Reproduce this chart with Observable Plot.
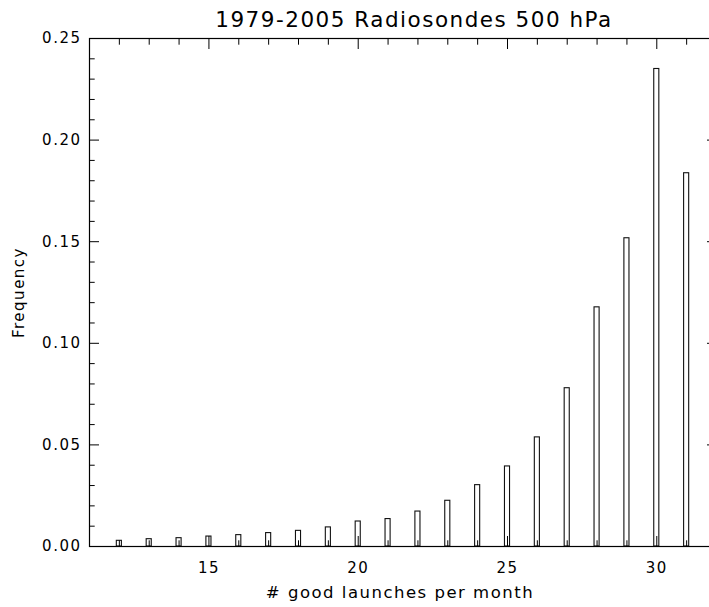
<!DOCTYPE html>
<html><head><meta charset="utf-8">
<script src="https://cdn.jsdelivr.net/npm/d3@7"></script>
<script src="https://cdn.jsdelivr.net/npm/@observablehq/plot@0.6"></script>
<style>
body{margin:0;background:#fff;}
svg text{letter-spacing:1.5px;}
</style></head><body><div id="chart"></div>
<script>
// number of good launches per month (histogram bins)
const launches = [12,13,14,15,16,17,18,19,20,21,22,23,24,25,26,27,28,29,30,31];
// frequency of each bin
const frequency = [0.0028,0.0036,0.0041,0.0049,0.0056,0.0066,0.0077,0.0094,0.0123,0.0135,0.0172,0.0225,0.0302,0.0394,0.0537,0.0779,0.1177,0.1517,0.2350,0.1837];
const xTickLabels = [15,20,25,30];
const yTickLabels = [0,0.05,0.10,0.15,0.20,0.25];
const xMinorTicks = [11,12,13,14,16,17,18,19,21,22,23,24,26,27,28,29,31,32];
const yMinorTicks = [0.01,0.02,0.03,0.04,0.06,0.07,0.08,0.09,0.11,0.12,0.13,0.14,0.16,0.17,0.18,0.19,0.21,0.22,0.23,0.24];
const titleText = "1979-2005 Radiosondes 500 hPa";
const xLabel = "# good launches per month";
const yLabel = "Frequency";

const bars = launches.map((n,i) => ({n, f: frequency[i]}));
const half = 0.085;
const blank = () => "";

const chart = Plot.plot({
  width: 709, height: 607,
  marginTop: 38, marginBottom: 61, marginLeft: 89, marginRight: -7,
  style: {fontFamily: "DejaVu Sans", color: "black", background: "white"},
  x: {domain: [11, 32]},
  y: {domain: [0, 0.25]},
  marks: [
    Plot.rect(bars, {x1: d => d.n - half, x2: d => d.n + half, y1: 0, y2: "f", fill: "white", stroke: "#111", strokeWidth: 1.1}),
    // bottom axis (ticks inward)
    Plot.axisX({anchor: "bottom", ticks: xMinorTicks, tickSize: -5.7, tickFormat: blank, label: null}),
    Plot.axisX({anchor: "bottom", ticks: xTickLabels, tickSize: -10, tickFormat: blank, label: null}),
    Plot.axisX({anchor: "bottom", ticks: xTickLabels, tickSize: 0, tickPadding: 16, fontSize: 15, tickFormat: d => String(d), label: null}),
    // top axis
    Plot.axisX({anchor: "top", ticks: xMinorTicks, tickSize: -5.7, tickFormat: blank, label: null}),
    Plot.axisX({anchor: "top", ticks: xTickLabels, tickSize: -10, tickFormat: blank, label: null}),
    // left axis
    Plot.axisY({anchor: "left", ticks: yMinorTicks, tickSize: -5.7, tickFormat: blank, label: null}),
    Plot.axisY({anchor: "left", ticks: yTickLabels, tickSize: -10, tickFormat: blank, label: null}),
    Plot.axisY({anchor: "left", ticks: yTickLabels, tickSize: 0, tickPadding: 8, fontSize: 15, tickFormat: d3.format(".2f"), label: null}),
    // right axis
    Plot.axisY({anchor: "right", ticks: yMinorTicks, tickSize: -5.7, tickFormat: blank, label: null}),
    Plot.axisY({anchor: "right", ticks: yTickLabels, tickSize: -10, tickFormat: blank, label: null}),
    Plot.frame({stroke: "black", strokeWidth: 1.2}),
    Plot.text([titleText], {text: d => d, frameAnchor: "top", dx: 11, dy: -18, fontSize: 21.5, lineAnchor: "middle", style: "letter-spacing:2.4px"}),
    Plot.text([xLabel], {text: d => d, frameAnchor: "bottom", dx: -3, dy: 46, fontSize: 16.5, lineAnchor: "middle"}),
    Plot.text([yLabel], {text: d => d, frameAnchor: "left", dx: -70, rotate: -90, fontSize: 15, textAnchor: "middle", lineAnchor: "middle"})
  ]
});
document.getElementById("chart").appendChild(chart);
</script></body></html>
